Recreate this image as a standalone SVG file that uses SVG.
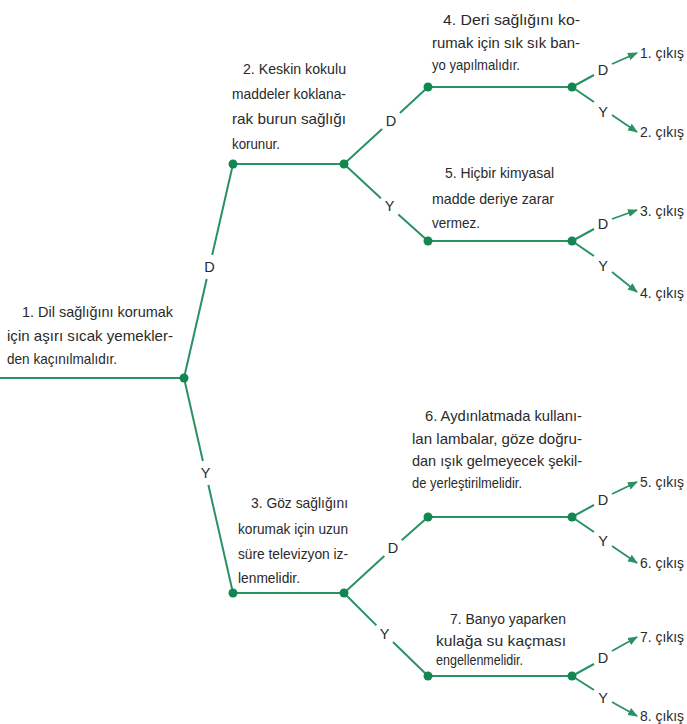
<svg xmlns="http://www.w3.org/2000/svg" width="687" height="724" viewBox="0 0 687 724">
<style>
.t{font-family:"Liberation Sans Narrow","Liberation Sans",Arial,sans-serif;font-size:14.5px;fill:#2a2a2a}
.l{font-family:"Liberation Sans Narrow","Liberation Sans",Arial,sans-serif;font-size:14.5px;fill:#2a2a2a;text-anchor:middle}
.e{stroke:#2a9163;stroke-width:2;fill:none}
.a{stroke:#2a9163;stroke-width:1.8;fill:none;marker-end:url(#ah)}
.d{fill:#148652}
</style>
<defs>
<marker id="ah" viewBox="0 0 10 10" refX="9" refY="5" markerWidth="10" markerHeight="10" markerUnits="userSpaceOnUse" orient="auto"><path d="M0,1 L10,5 L0,9 z" fill="#2a9163"/></marker>
</defs>
<rect width="687" height="724" fill="#ffffff"/>

<g id="connectors">
<line class="e" x1="184" y1="378" x2="206.7" y2="279"/>
<line class="e" x1="212.2" y1="255" x2="233" y2="164"/>
<text class="l" x="209.5" y="272">D</text>
<line class="e" x1="184" y1="378" x2="202.9" y2="461"/>
<line class="e" x1="208.4" y1="485" x2="233" y2="593"/>
<text class="l" x="205.6" y="478">Y</text>

<line class="e" x1="344" y1="164" x2="382.1" y2="129.1"/>
<line class="e" x1="399.9" y1="112.9" x2="428" y2="87"/>
<text class="l" x="391" y="126">D</text>
<line class="e" x1="344" y1="164" x2="380.9" y2="198.3"/>
<line class="e" x1="398.4" y1="214.4" x2="428" y2="241"/>
<text class="l" x="389.7" y="211">Y</text>

<line class="e" x1="344" y1="593" x2="384.3" y2="556.1"/>
<line class="e" x1="401.7" y1="540.2" x2="428" y2="517"/>
<text class="l" x="393" y="553">D</text>
<line class="e" x1="344" y1="593" x2="376.4" y2="625.4"/>
<line class="e" x1="393" y1="642" x2="428" y2="676"/>
<text class="l" x="384.7" y="638.5">Y</text>

<line class="e" x1="572" y1="87" x2="594" y2="75"/>
<text class="l" x="603" y="75">D</text>
<line class="a" x1="612" y1="64" x2="637" y2="53"/>
<line class="e" x1="572" y1="87" x2="594" y2="102"/>
<text class="l" x="603" y="117">Y</text>
<line class="a" x1="612" y1="115" x2="637" y2="132"/>

<line class="e" x1="572" y1="241" x2="594" y2="229"/>
<text class="l" x="603" y="229">D</text>
<line class="a" x1="612" y1="219" x2="637" y2="210"/>
<line class="e" x1="572" y1="241" x2="594" y2="256"/>
<text class="l" x="603" y="271">Y</text>
<line class="a" x1="612" y1="272" x2="637" y2="292"/>

<line class="e" x1="572" y1="517" x2="594" y2="505"/>
<text class="l" x="603" y="505">D</text>
<line class="a" x1="612" y1="494" x2="637" y2="482"/>
<line class="e" x1="572" y1="517" x2="594" y2="532"/>
<text class="l" x="603" y="546">Y</text>
<line class="a" x1="612" y1="546" x2="637" y2="563"/>

<line class="e" x1="572" y1="676" x2="594" y2="664"/>
<text class="l" x="603" y="663">D</text>
<line class="a" x1="612" y1="651" x2="637" y2="637"/>
<line class="e" x1="572" y1="676" x2="594" y2="690"/>
<text class="l" x="603" y="703">Y</text>
<line class="a" x1="612" y1="702" x2="637" y2="716"/>
</g>

<g id="node1">
<text class="t" x="22" y="317" textLength="151" lengthAdjust="spacingAndGlyphs">1. Dil sağlığını korumak</text>
<text class="t" x="7" y="341" textLength="166" lengthAdjust="spacingAndGlyphs">için aşırı sıcak yemekler-</text>
<text class="t" x="7" y="364" textLength="110" lengthAdjust="spacingAndGlyphs">den kaçınılmalıdır.</text>
<line class="e" x1="0" y1="378" x2="184" y2="378"/>
<circle class="d" cx="184" cy="378" r="4.5"/>
</g>

<g id="node2">
<text class="t" x="243" y="74" textLength="103" lengthAdjust="spacingAndGlyphs">2. Keskin kokulu</text>
<text class="t" x="232" y="99" textLength="114" lengthAdjust="spacingAndGlyphs">maddeler koklana-</text>
<text class="t" x="232" y="124" textLength="114" lengthAdjust="spacingAndGlyphs">rak burun sağlığı</text>
<text class="t" x="232" y="149" textLength="48" lengthAdjust="spacingAndGlyphs">korunur.</text>
<line class="e" x1="233" y1="164" x2="344" y2="164"/>
<circle class="d" cx="233" cy="164" r="4.5"/>
<circle class="d" cx="344" cy="164" r="4.5"/>
</g>

<g id="node4">
<text class="t" x="443" y="25" textLength="137" lengthAdjust="spacingAndGlyphs">4. Deri sağlığını ko-</text>
<text class="t" x="432" y="48" textLength="148" lengthAdjust="spacingAndGlyphs">rumak için sık sık ban-</text>
<text class="t" x="432" y="70" textLength="88" lengthAdjust="spacingAndGlyphs">yo yapılmalıdır.</text>
<line class="e" x1="428" y1="87" x2="572" y2="87"/>
<circle class="d" cx="428" cy="87" r="4.5"/>
<circle class="d" cx="572" cy="87" r="4.5"/>
</g>

<g id="node5">
<text class="t" x="445" y="178" textLength="109" lengthAdjust="spacingAndGlyphs">5. Hiçbir kimyasal</text>
<text class="t" x="432" y="204" textLength="122" lengthAdjust="spacingAndGlyphs">madde deriye zarar</text>
<text class="t" x="432" y="228" textLength="48" lengthAdjust="spacingAndGlyphs">vermez.</text>
<line class="e" x1="428" y1="241" x2="572" y2="241"/>
<circle class="d" cx="428" cy="241" r="4.5"/>
<circle class="d" cx="572" cy="241" r="4.5"/>
</g>

<g id="node3">
<text class="t" x="251" y="508" textLength="97" lengthAdjust="spacingAndGlyphs">3. Göz sağlığını</text>
<text class="t" x="238" y="534" textLength="110" lengthAdjust="spacingAndGlyphs">korumak için uzun</text>
<text class="t" x="238" y="559" textLength="110" lengthAdjust="spacingAndGlyphs">süre televizyon iz-</text>
<text class="t" x="238" y="583" textLength="62" lengthAdjust="spacingAndGlyphs">lenmelidir.</text>
<line class="e" x1="233" y1="593" x2="344" y2="593"/>
<circle class="d" cx="233" cy="593" r="4.5"/>
<circle class="d" cx="344" cy="593" r="4.5"/>
</g>

<g id="node6">
<text class="t" x="425" y="421" textLength="157" lengthAdjust="spacingAndGlyphs">6. Aydınlatmada kullanı-</text>
<text class="t" x="412" y="444" textLength="170" lengthAdjust="spacingAndGlyphs">lan lambalar, göze doğru-</text>
<text class="t" x="412" y="466" textLength="170" lengthAdjust="spacingAndGlyphs">dan ışık gelmeyecek şekil-</text>
<text class="t" x="412" y="488" textLength="110" lengthAdjust="spacingAndGlyphs">de yerleştirilmelidir.</text>
<line class="e" x1="428" y1="517" x2="572" y2="517"/>
<circle class="d" cx="428" cy="517" r="4.5"/>
<circle class="d" cx="572" cy="517" r="4.5"/>
</g>

<g id="node7">
<text class="t" x="450" y="624" textLength="116" lengthAdjust="spacingAndGlyphs">7. Banyo yaparken</text>
<text class="t" x="436" y="646" textLength="130" lengthAdjust="spacingAndGlyphs">kulağa su kaçması</text>
<text class="t" x="436" y="665" textLength="87" lengthAdjust="spacingAndGlyphs">engellenmelidir.</text>
<line class="e" x1="428" y1="676" x2="572" y2="676"/>
<circle class="d" cx="428" cy="676" r="4.5"/>
<circle class="d" cx="572" cy="676" r="4.5"/>
</g>

<g id="exit1"><text class="t" x="640" y="58" textLength="44" lengthAdjust="spacingAndGlyphs">1. çıkış</text></g>
<g id="exit2"><text class="t" x="640" y="137" textLength="44" lengthAdjust="spacingAndGlyphs">2. çıkış</text></g>
<g id="exit3"><text class="t" x="640" y="216" textLength="44" lengthAdjust="spacingAndGlyphs">3. çıkış</text></g>
<g id="exit4"><text class="t" x="640" y="298" textLength="44" lengthAdjust="spacingAndGlyphs">4. çıkış</text></g>
<g id="exit5"><text class="t" x="640" y="487" textLength="44" lengthAdjust="spacingAndGlyphs">5. çıkış</text></g>
<g id="exit6"><text class="t" x="640" y="568" textLength="44" lengthAdjust="spacingAndGlyphs">6. çıkış</text></g>
<g id="exit7"><text class="t" x="640" y="642" textLength="44" lengthAdjust="spacingAndGlyphs">7. çıkış</text></g>
<g id="exit8"><text class="t" x="640" y="721" textLength="44" lengthAdjust="spacingAndGlyphs">8. çıkış</text></g>
</svg>
